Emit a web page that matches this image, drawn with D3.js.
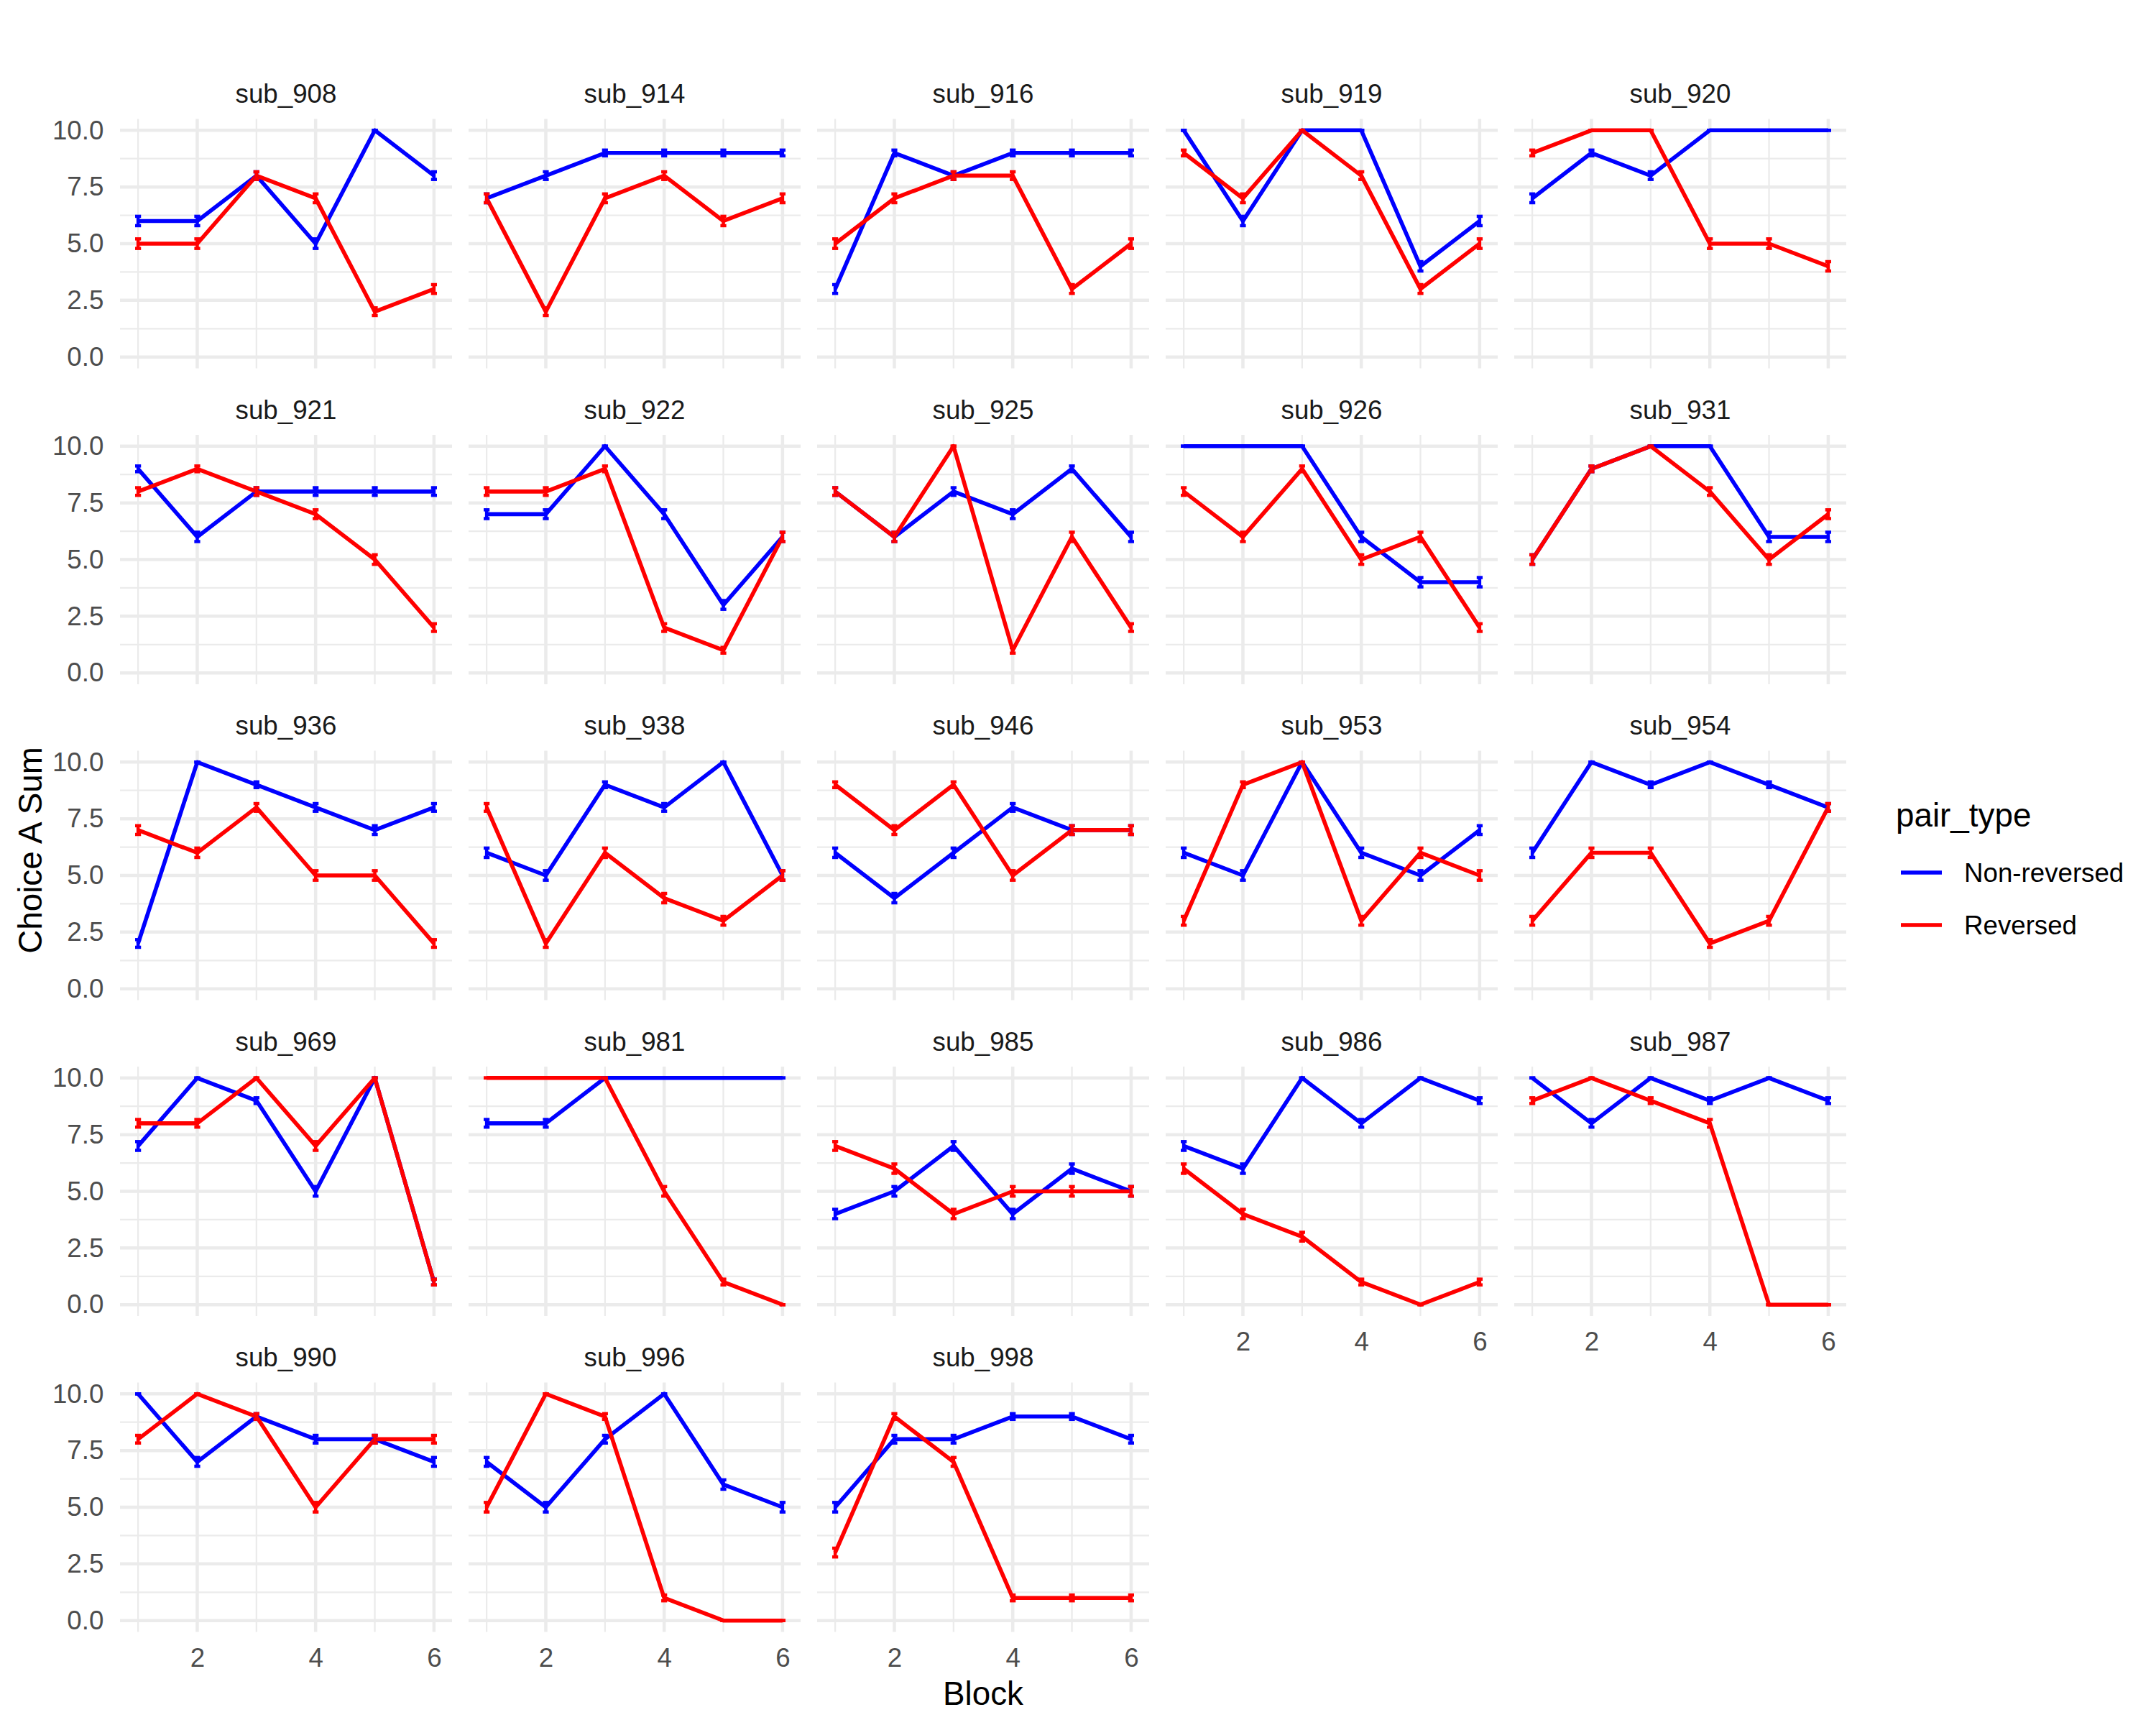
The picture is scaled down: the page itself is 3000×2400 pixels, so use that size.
<!DOCTYPE html>
<html><head><meta charset="utf-8">
<script src="https://cdn.jsdelivr.net/npm/d3@7"></script>
<style>body{margin:0;background:#fff}</style>
</head><body>
<svg id="chart" width="3000" height="2400" xmlns="http://www.w3.org/2000/svg"></svg>
<script>
// ---------------- data ----------------
const subjects = ["sub_908","sub_914","sub_916","sub_919","sub_920",
                  "sub_921","sub_922","sub_925","sub_926","sub_931",
                  "sub_936","sub_938","sub_946","sub_953","sub_954",
                  "sub_969","sub_981","sub_985","sub_986","sub_987",
                  "sub_990","sub_996","sub_998"];
const blocks = [1, 2, 3, 4, 5, 6];
const nonReversed = [
  [6,6,8,5,10,8],[7,8,9,9,9,9],[3,9,8,9,9,9],[10,6,10,10,4,6],[7,9,8,10,10,10],
  [9,6,8,8,8,8],[7,7,10,7,3,6],[8,6,8,7,9,6],[10,10,10,6,4,4],[5,9,10,10,6,6],
  [2,10,9,8,7,8],[6,5,9,8,10,5],[6,4,6,8,7,7],[6,5,10,6,5,7],[6,10,9,10,9,8],
  [7,10,9,5,10,1],[8,8,10,10,10,10],[4,5,7,4,6,5],[7,6,10,8,10,9],[10,8,10,9,10,9],
  [10,7,9,8,8,7],[7,5,8,10,6,5],[5,8,8,9,9,8]
];
const reversed = [
  [5,5,8,7,2,3],[7,2,7,8,6,7],[5,7,8,8,3,5],[9,7,10,8,3,5],[9,10,10,5,5,4],
  [8,9,8,7,5,2],[8,8,9,2,1,6],[8,6,10,1,6,2],[8,6,9,5,6,2],[5,9,10,8,5,7],
  [7,6,8,5,5,2],[8,2,6,4,3,5],[9,7,9,5,7,7],[3,9,10,3,6,5],[3,6,6,2,3,8],
  [8,8,10,7,10,1],[10,10,10,5,1,0],[7,6,4,5,5,5],[6,4,3,1,0,1],[9,10,9,8,0,0],
  [8,10,9,5,8,8],[5,10,9,1,0,0],[3,9,7,1,1,1]
];
const seriesNames = ["Non-reversed", "Reversed"];
const seriesColors = ["#0000FF", "#FF0000"];
const xTicks = [2, 4, 6];
const xMinor = [1, 3, 5];
const yTicks = [0, 2.5, 5, 7.5, 10];
const yMinor = [1.25, 3.75, 6.25, 8.75];
const trialsPerBlock = 10;

// ---------------- layout ----------------
const FONT = "'Liberation Sans', Arial, Helvetica, sans-serif";
const nCols = 5;
const panelW = 462, panelH = 347;
const colPitch = 485, rowPitch = 439.5;
const left0 = 167, top0 = 165.5;

const svg = d3.select("#chart");
svg.append("rect").attr("width", 3000).attr("height", 2400).attr("fill", "#fff");

const x = d3.scaleLinear().domain([0.695, 6.305]).range([0, panelW]);
const y = d3.scaleLinear().domain([-0.5, 10.5]).range([panelH, 0]);

// standard error of a block sum of binary choices
const se = v => Math.sqrt(v * (trialsPerBlock - v) / trialsPerBlock) / 7.5;

const line = d3.line().x(d => x(d.b)).y(d => y(d.v));

subjects.forEach((sub, i) => {
  const col = i % nCols, row = Math.floor(i / nCols);
  const g = svg.append("g").attr("transform", `translate(${left0 + col * colPitch},${top0 + row * rowPitch})`);

  // grid: minor then major
  g.selectAll(".ymin").data(yMinor).join("line")
    .attr("x1", 0).attr("x2", panelW).attr("y1", d => y(d)).attr("y2", d => y(d))
    .attr("stroke", "#EBEBEB").attr("stroke-width", 2.3);
  g.selectAll(".xmin").data(xMinor).join("line")
    .attr("y1", 0).attr("y2", panelH).attr("x1", d => x(d)).attr("x2", d => x(d))
    .attr("stroke", "#EBEBEB").attr("stroke-width", 2.3);
  g.selectAll(".ymaj").data(yTicks).join("line")
    .attr("x1", 0).attr("x2", panelW).attr("y1", d => y(d)).attr("y2", d => y(d))
    .attr("stroke", "#EBEBEB").attr("stroke-width", 4.5);
  g.selectAll(".xmaj").data(xTicks).join("line")
    .attr("y1", 0).attr("y2", panelH).attr("x1", d => x(d)).attr("x2", d => x(d))
    .attr("stroke", "#EBEBEB").attr("stroke-width", 4.5);

  // strip title
  g.append("text").attr("x", panelW / 2).attr("y", -22.5)
    .attr("text-anchor", "middle").attr("font-family", FONT).attr("font-size", 36.7)
    .attr("fill", "#1A1A1A").text(sub);

  const series = [nonReversed[i], reversed[i]];
  series.forEach((vals, s) => {
    const pts = blocks.map((b, k) => ({ b, v: vals[k] }));
    g.append("path").datum(pts).attr("d", line)
      .attr("fill", "none").attr("stroke", seriesColors[s]).attr("stroke-width", 5.6)
      .attr("stroke-linejoin", "round");
  });
  series.forEach((vals, s) => {
    const pts = blocks.map((b, k) => ({ b, v: vals[k], e: se(vals[k]) }));
    const eb = g.append("g").attr("stroke", seriesColors[s]).attr("stroke-width", 4.5);
    pts.forEach(p => {
      eb.append("line").attr("x1", x(p.b)).attr("x2", x(p.b)).attr("y1", y(p.v - p.e)).attr("y2", y(p.v + p.e));
      eb.append("line").attr("x1", x(p.b - 0.05)).attr("x2", x(p.b + 0.05)).attr("y1", y(p.v - p.e)).attr("y2", y(p.v - p.e));
      eb.append("line").attr("x1", x(p.b - 0.05)).attr("x2", x(p.b + 0.05)).attr("y1", y(p.v + p.e)).attr("y2", y(p.v + p.e));
    });
  });

  // y axis labels (first column)
  if (col === 0) {
    const ax = g.append("g").call(d3.axisLeft(y).tickValues(yTicks).tickFormat(d3.format(".1f")).tickSize(0).tickPadding(22.7));
    ax.select(".domain").remove();
    ax.selectAll("text").attr("font-family", FONT).attr("font-size", 36.7).attr("fill", "#4D4D4D");
  }
  // x axis labels (bottom panel of each column)
  if (i + nCols >= subjects.length) {
    const ax = g.append("g").attr("transform", `translate(0,${panelH})`)
      .call(d3.axisBottom(x).tickValues(xTicks).tickFormat(d3.format("d")).tickSize(0).tickPadding(22));
    ax.select(".domain").remove();
    ax.selectAll("text").attr("font-family", FONT).attr("font-size", 36.7).attr("fill", "#4D4D4D");
  }
});

// axis titles
svg.append("text").attr("x", 1368).attr("y", 2372).attr("text-anchor", "middle")
  .attr("font-family", FONT).attr("font-size", 45.8).attr("fill", "#000").text("Block");
svg.append("text").attr("transform", "translate(58,1183) rotate(-90)").attr("text-anchor", "middle")
  .attr("font-family", FONT).attr("font-size", 45.8).attr("fill", "#000").text("Choice A Sum");

// legend
const lg = svg.append("g");
lg.append("text").attr("x", 2638).attr("y", 1150).attr("font-family", FONT).attr("font-size", 45.8)
  .attr("fill", "#000").text("pair_type");
seriesNames.forEach((name, s) => {
  const ky = 1214 + s * 73;
  lg.append("line").attr("x1", 2645).attr("x2", 2702).attr("y1", ky).attr("y2", ky)
    .attr("stroke", seriesColors[s]).attr("stroke-width", 5.6);
  lg.append("text").attr("x", 2733).attr("y", ky).attr("dominant-baseline", "central")
    .attr("font-family", FONT).attr("font-size", 36.7).attr("fill", "#000").text(name);
});
</script>
</body></html>
